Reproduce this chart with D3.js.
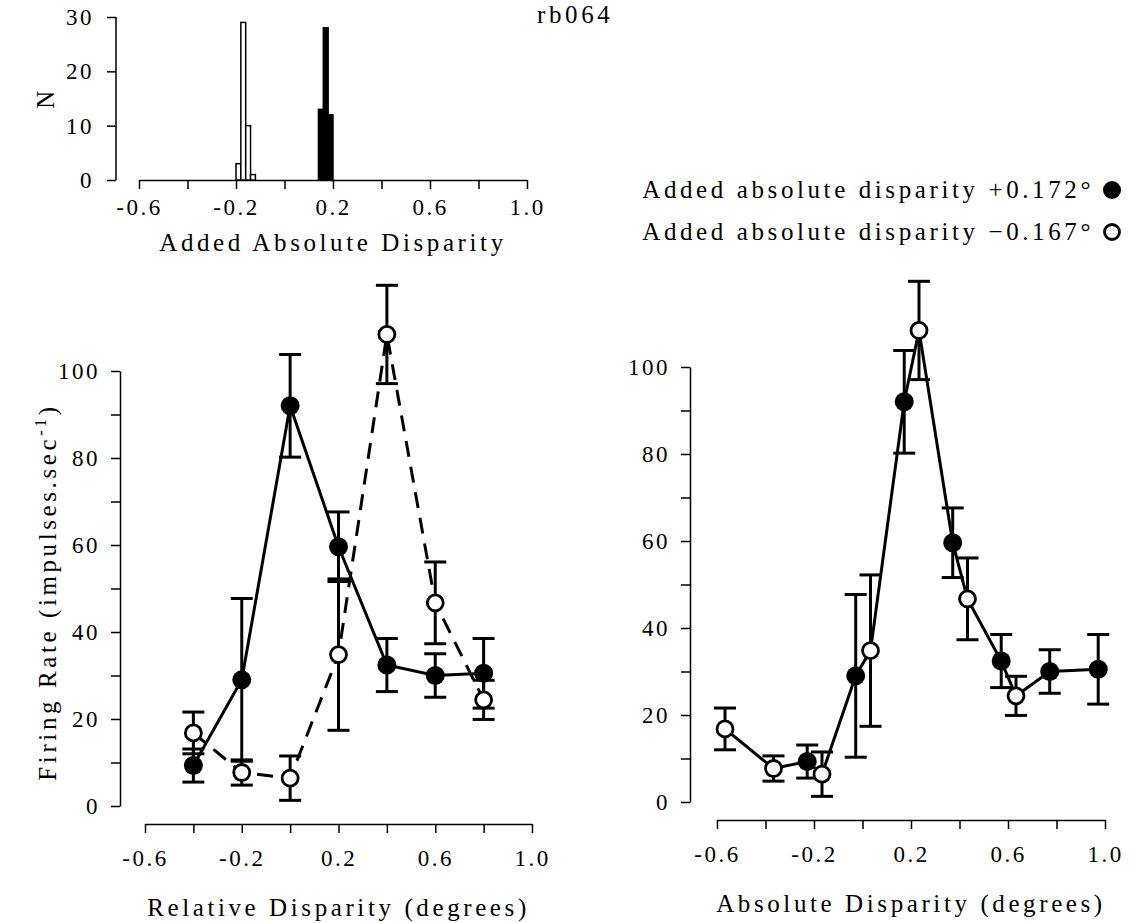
<!DOCTYPE html>
<html>
<head>
<meta charset="utf-8">
<script src="https://cdn.jsdelivr.net/npm/d3@7"></script>
<style>
  body { margin: 0; background: #fff; }
  svg text { font-family: "Liberation Serif", "DejaVu Serif", serif; fill: #000; }
  .axis path, .axis line { stroke: #000; stroke-width: 1.5; }
  .axis text { font-size: 23px; letter-spacing: 2.5px; }
  .label { font-size: 25px; letter-spacing: 3.6px; }
</style>
</head>
<body>
<div id="chart-area"></div>
<script>
// histogram of added absolute disparity (bin start, count), bin width 0.02
const binWidth = 0.02;
const openBins = [-0.2, -0.18, -0.16, -0.14];
const openCounts = [3, 29, 10, 1];
const filledBins = [0.14, 0.16, 0.18];
const filledCounts = [13, 28, 12];

// disparity tuning, relative disparity
const relX = [-0.4, -0.2, 0, 0.2, 0.4, 0.6, 0.8];
const filledY = [9.3, 29, 92, 59.6, 32.4, 30, 30.5];
const filledErr = [3.8, 18.7, 11.8, 8, 6.1, 5, 8];
const openY = [16.8, 7.7, 6.4, 34.8, 108.4, 46.7, 24.4];
const openErr = [4.8, 2.9, 5.1, 17.4, 11.3, 9.4, 4.5];

// same cells against absolute disparity
const filledAbsX = [-0.228, -0.028, 0.172, 0.372, 0.572, 0.772, 0.972];
const openAbsX = [-0.567, -0.367, -0.167, 0.033, 0.233, 0.433, 0.633];

const xTicks = [-0.6, -0.4, -0.2, 0, 0.2, 0.4, 0.6, 0.8, 1.0];
const xLabelled = [-0.6, -0.2, 0.2, 0.6, 1.0];
const yTicks = [0, 10, 20, 30, 40, 50, 60, 70, 80, 90, 100];
const histYTicks = [0, 10, 20, 30];

const legendLabels = ['Added absolute disparity +0.172\u00b0', 'Added absolute disparity \u22120.167\u00b0'];

const xFormat = d => xLabelled.some(v => Math.abs(v - d) < 1e-9) ? d.toFixed(1) : '';

const svg = d3.select('#chart-area').append('svg')
  .attr('width', 1129)
  .attr('height', 923);

const drawHistogram = () => {
  const x = d3.scaleLinear().domain([-0.6, 1.0]).range([139, 527]);
  const y = d3.scaleLinear().domain([0, 30]).range([180, 17]);

  svg.append('g')
    .attr('class', 'axis')
    .attr('transform', 'translate(116,0)')
    .call(d3.axisLeft(y).tickValues(histYTicks).tickSize(9).tickPadding(13).tickSizeOuter(0))
    .call(g => g.select('.domain').attr('d', `M0,${y(0)}V${y(30)}`));

  svg.append('g')
    .attr('class', 'axis')
    .attr('transform', `translate(0,${y(0)})`)
    .call(d3.axisBottom(x).tickValues(xTicks).tickFormat(xFormat).tickSize(9).tickPadding(10).tickSizeOuter(0));

  const bars = [
    ...openBins.map((b, i) => ({ x: b, n: openCounts[i], fill: '#fff' })),
    ...filledBins.map((b, i) => ({ x: b, n: filledCounts[i], fill: '#000' }))
  ];
  svg.selectAll('.bar').data(bars).enter().append('rect')
    .attr('class', 'bar')
    .attr('x', d => x(d.x))
    .attr('y', d => y(d.n))
    .attr('width', d => x(d.x + binWidth) - x(d.x))
    .attr('height', d => y(0) - y(d.n))
    .attr('fill', d => d.fill)
    .attr('stroke', '#000')
    .attr('stroke-width', 1.5);

  svg.append('text').attr('class', 'label')
    .attr('x', 333).attr('y', 251).attr('text-anchor', 'middle')
    .text('Added Absolute Disparity');

  svg.append('text').attr('class', 'label')
    .attr('transform', 'translate(54,98) rotate(-90)')
    .attr('text-anchor', 'middle')
    .text('N');

  svg.append('text').attr('class', 'label')
    .attr('x', 537).attr('y', 23)
    .text('rb064');
};

const drawTuning = (xRange, yRange, xAxisY, yAxisX, title) => {
  const x = d3.scaleLinear().domain([-0.6, 1.0]).range(xRange);
  const y = d3.scaleLinear().domain([0, 100]).range(yRange);

  svg.append('g')
    .attr('class', 'axis')
    .attr('transform', `translate(${yAxisX},0)`)
    .call(d3.axisLeft(y).tickValues(yTicks).tickFormat(d => d % 20 === 0 ? d : '')
      .tickSize(9).tickPadding(11).tickSizeOuter(0));

  svg.append('g')
    .attr('class', 'axis')
    .attr('transform', `translate(0,${xAxisY})`)
    .call(d3.axisBottom(x).tickValues(xTicks).tickFormat(xFormat).tickSize(9).tickPadding(17).tickSizeOuter(0));

  svg.append('text').attr('class', 'label')
    .attr('x', (xRange[0] + xRange[1]) / 2).attr('y', xAxisY + 92)
    .attr('text-anchor', 'middle')
    .text(title);

  return { x, y };
};

const drawPoints = (g, x, y, xs, ys, errs) => {
  const pts = xs.map((v, i) => ({ x: v, y: ys[i], e: errs[i] }));
  const eb = g.append('g');
  pts.forEach(p => {
    eb.append('line')
      .attr('x1', x(p.x)).attr('x2', x(p.x))
      .attr('y1', y(p.y - p.e)).attr('y2', y(p.y + p.e));
    [p.y - p.e, p.y + p.e].forEach(v => {
      eb.append('line')
        .attr('x1', x(p.x) - 11).attr('x2', x(p.x) + 11)
        .attr('y1', y(v)).attr('y2', y(v));
    });
  });
  eb.selectAll('line').attr('stroke', '#000').attr('stroke-width', 3);
  return pts;
};

const drawCircles = (g, x, y, pts, filled) => {
  g.selectAll(null).data(pts).enter().append('circle')
    .attr('cx', d => x(d.x))
    .attr('cy', d => y(d.y))
    .attr('r', filled ? 9.5 : 8)
    .attr('fill', filled ? '#000' : '#fff')
    .attr('stroke', '#000')
    .attr('stroke-width', filled ? 0 : 2.8);
};

const line = (x, y) => d3.line().x(d => x(d.x)).y(d => y(d.y));

const drawLeft = () => {
  const { x, y } = drawTuning([145, 532], [806, 371], 824, 120, 'Relative Disparity (degrees)');
  const g = svg.append('g');
  const fPts = drawPoints(g, x, y, relX, filledY, filledErr);
  const oPts = drawPoints(g, x, y, relX, openY, openErr);
  g.append('path').datum(fPts).attr('d', line(x, y))
    .attr('fill', 'none').attr('stroke', '#000').attr('stroke-width', 3);
  g.append('path').datum(oPts).attr('d', line(x, y))
    .attr('fill', 'none').attr('stroke', '#000').attr('stroke-width', 3)
    .attr('stroke-dasharray', '16,10');
  drawCircles(g, x, y, fPts, true);
  drawCircles(g, x, y, oPts, false);

  const lbl = svg.append('text').attr('class', 'label')
    .attr('transform', 'translate(56,592) rotate(-90)')
    .attr('text-anchor', 'middle');
  lbl.append('tspan').text('Firing Rate (impulses.sec');
  lbl.append('tspan').attr('dy', -10).attr('font-size', 16).text('-1');
  lbl.append('tspan').attr('dy', 10).text(')');
};

const drawRight = () => {
  const { x, y } = drawTuning([717, 1105], [802, 367], 820, 690, 'Absolute Disparity (degrees)');
  const g = svg.append('g');
  const fPts = drawPoints(g, x, y, filledAbsX, filledY, filledErr);
  const oPts = drawPoints(g, x, y, openAbsX, openY, openErr);
  const all = [...fPts, ...oPts].sort((a, b) => a.x - b.x);
  g.append('path').datum(all).attr('d', line(x, y))
    .attr('fill', 'none').attr('stroke', '#000').attr('stroke-width', 3);
  drawCircles(g, x, y, fPts, true);
  drawCircles(g, x, y, oPts, false);
};

const drawLegend = () => {
  legendLabels.forEach((t, i) => {
    const yy = 198 + i * 42;
    svg.append('text').attr('class', 'label')
      .attr('x', 1094).attr('y', yy).attr('text-anchor', 'end')
      .text(t);
    svg.append('circle')
      .attr('cx', 1112).attr('cy', yy - 8)
      .attr('r', i === 0 ? 9 : 7.5)
      .attr('fill', i === 0 ? '#000' : '#fff')
      .attr('stroke', '#000').attr('stroke-width', i === 0 ? 0 : 2.8);
  });
};

drawHistogram();
drawLeft();
drawRight();
drawLegend();
</script>
</body>
</html>
